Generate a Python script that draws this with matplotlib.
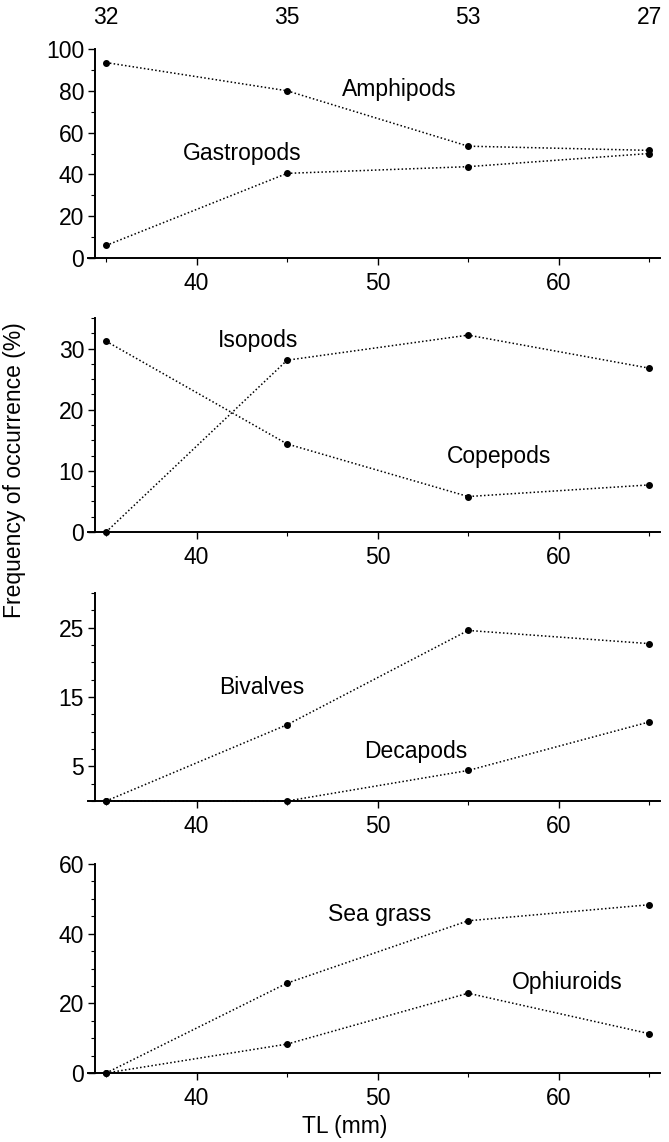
import numpy as np
import matplotlib
matplotlib.use("Agg")
import matplotlib.pyplot as plt
from matplotlib.ticker import MultipleLocator, FixedLocator
import matplotlib.transforms as mtrans

plt.rcParams.update({"font.family": ["Liberation Sans", "DejaVu Sans"], "font.size": 16})

# data
tl = [35, 45, 55, 65]
n_fish = ["32", "35", "53", "27"]
amphipods = [93.5, 80, 53.5, 51.5]
gastropods = [6, 40.5, 43.7, 50]
copepods = [31.2, 14.4, 5.8, 7.7]
isopods = [0, 28.1, 32.2, 26.8]
bivalves = [0, 11.0, 24.6, 22.7]
decapods = [0, 0, 4.4, 11.4]
sea_grass = [0, 25.8, 43.7, 48.3]
ophiuroids = [0, 8.3, 22.9, 11.3]

W, H = 669, 1142
fig = plt.figure(figsize=(W / 100, H / 100), dpi=100)

def px_axes(left, top, right, bottom):
    return fig.add_axes([left / W, 1 - bottom / H, (right - left) / W, (bottom - top) / H])

panels = [
    # (top px, bottom px, ylim top, major, minor, labels)
    (49, 258, 100, 20, 10, [("Amphipods", amphipods, 51.2, 80.5), ("Gastropods", gastropods, 42.5, 50.2)]),
    (318, 532, 35, 10, 2.5, [("Copepods", copepods, 56.7, 12.3), ("Isopods", isopods, 43.4, 31.4)]),
    (593, 801, 30, None, 2.5, [("Bivalves", bivalves, 43.6, 16.3), ("Decapods", decapods, 52.1, 7.1)]),
    (864, 1073, 60, 20, 5, [("Sea grass", sea_grass, 50.1, 45.4), ("Ophiuroids", ophiuroids, 60.5, 26.1)]),
]

axes = []
for top, bot, ytop, major, minor, series in panels:
    ax = px_axes(88, top, 660, bot)
    for name, vals, lx, ly in series:
        ax.plot(tl, vals, color="black", lw=1.1, ls=(0, (1, 1.5)), marker="o", ms=4,
                clip_on=False, zorder=3)
        ax.text(lx, ly, name, ha="center", va="center", fontsize=16.5)
    ax.set_xlim(34.0, 65.6)
    ax.set_ylim(0, ytop)
    ax.spines["top"].set_visible(False)
    ax.spines["right"].set_visible(False)
    ax.spines["left"].set_position(("data", 34.4))
    ax.spines["left"].set_linewidth(1.4)
    ax.spines["bottom"].set_linewidth(1.4)
    ax.set_xticks([40, 50, 60])
    ax.xaxis.set_minor_locator(FixedLocator(tl))
    if major is None:
        ax.set_yticks([5, 15, 25])
        ax.yaxis.set_minor_locator(FixedLocator(np.arange(0, 30.1, 2.5)))
    else:
        ax.yaxis.set_major_locator(MultipleLocator(major))
        ax.yaxis.set_minor_locator(MultipleLocator(minor))
    ax.tick_params(which="major", direction="out", length=5, width=1, labelsize=16.5, pad=3)
    ax.tick_params(which="minor", direction="out", length=3, width=0.8)
    ax.tick_params(axis="x", which="major", pad=5)
    axes.append(ax)

# sample sizes above the top panel
trans = mtrans.blended_transform_factory(axes[0].transData, fig.transFigure)
for x, n in zip(tl, n_fish):
    axes[0].text(x, 1 - 17 / H, n, transform=trans, ha="center", va="center", fontsize=16.5)

fig.text(15 / W, 1 - 470 / H, "Frequency of occurrence (%)", rotation=90,
         ha="center", va="center", fontsize=16.5)
fig.text(345 / W, 1 - 1127 / H, "TL (mm)", ha="center", va="center", fontsize=16.5)

fig.savefig("out.png", dpi=100)
